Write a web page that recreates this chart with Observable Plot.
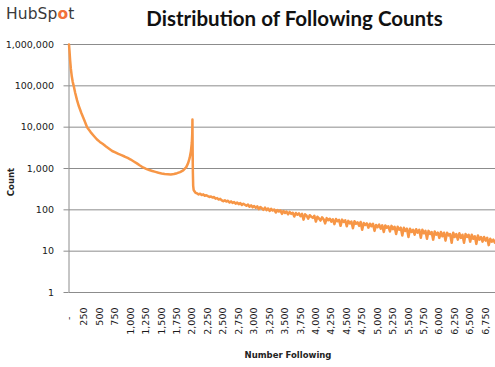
<!DOCTYPE html>
<html><head><meta charset="utf-8">
<script src="https://cdn.jsdelivr.net/npm/d3@7"></script>
<script src="https://cdn.jsdelivr.net/npm/@observablehq/plot@0.6"></script>
<style>
body{margin:0;background:#fff;}
#wrap{position:relative;width:495px;height:367px;overflow:hidden;font-family:"DejaVu Sans",sans-serif;background:#fff;}
#wrap svg{position:absolute;left:0;top:0;}
#logo{position:absolute;left:6px;top:5px;font-family:"DejaVu Sans",sans-serif;font-size:15.5px;line-height:18px;color:#3a3a3a;letter-spacing:0.1px;}
#logo .o{color:#f2703a;font-weight:bold;}
#title{position:absolute;left:94.5px;width:400px;top:8px;text-align:center;font-family:Lato,sans-serif;font-weight:700;font-size:20.5px;line-height:20px;color:#111;}
.axl{position:absolute;font-family:"DejaVu Sans",sans-serif;font-weight:bold;font-size:8.5px;color:#222;white-space:nowrap;transform:translate(-50%,-50%);}
#ylab{left:11px;top:182px;transform:translate(-50%,-50%) rotate(-90deg);}
#xlab{left:288px;top:355px;}
</style></head><body>
<div id="wrap">
  <div id="logo">HubSp<span class="o">o</span>t</div>
  <div id="title">Distribution of Following Counts</div>
  <div id="ylab" class="axl">Count</div>
  <div id="xlab" class="axl">Number Following</div>
</div>
<script>
// Number followed (x) and count of users (y)
const followingHead = [0, 8, 18, 30, 45, 60, 76, 100, 130, 160, 200, 250, 293, 350, 400, 450, 500, 550, 600, 650, 700, 750, 800, 850, 900, 950, 1000, 1050, 1100, 1150, 1200, 1250, 1300, 1350, 1400, 1450, 1500, 1550, 1600, 1650, 1700, 1750, 1800, 1850, 1900, 1930, 1955, 1975, 1990, 1997, 2000, 2003, 2007, 2012, 2020, 2030];
const countHead = [1000000, 700000, 420000, 260000, 170000, 125000, 100000, 68000, 45000, 32000, 22000, 14500, 10000, 7600, 6200, 5100, 4400, 3900, 3400, 3000, 2650, 2450, 2250, 2100, 1950, 1800, 1650, 1480, 1330, 1180, 1060, 980, 920, 870, 830, 790, 760, 740, 730, 720, 735, 770, 820, 900, 1080, 1350, 1800, 2600, 4200, 7000, 15300, 3000, 800, 380, 300, 285];
// tail: one reading every 25 following, from 2,050 to 6,900
const tailStart = 2050, tailStep = 25;
const countTail = [
  258, 250, 236, 245, 228, 237, 219, 226, 214, 205, 211, 198, 204, 186, 192, 178,
  184, 170, 162, 171, 159, 166, 150, 160, 147, 155, 141, 150, 137, 146, 131, 141,
  133, 125, 134, 119, 128, 115, 124, 112, 121, 104, 117, 109, 100, 113, 98, 108,
  94, 106, 96, 102, 86, 99, 91, 97, 80, 94, 84, 91, 78, 89, 80, 85,
  69, 84, 76, 82, 70, 80, 58, 78, 72, 61, 74, 68, 64, 72, 52, 68,
  62, 55, 66, 59, 47, 63, 56, 61, 52, 59, 45, 60, 53, 57, 41, 58,
  51, 56, 40, 54, 47, 52, 36, 53, 46, 50, 41, 51, 33, 48, 43, 47,
  37, 46, 40, 46, 31, 43, 38, 44, 35, 42, 29, 42, 37, 40, 30, 41,
  34, 39, 26, 39, 33, 37, 24, 37, 31, 35, 22, 35, 29, 33, 25, 34,
  28, 33, 21, 33, 27, 31, 20, 31, 26, 29, 19, 30, 25, 28, 21, 29,
  23, 28, 18, 28, 24, 26, 16, 28, 22, 26, 19, 27, 21, 25, 16, 26,
  22, 25, 17, 25, 20, 23, 15, 24, 19, 22, 17, 22, 18, 21, 14, 20,
  17, 19, 16
];
const yTicks = [1, 10, 100, 1000, 10000, 100000, 1000000];
const xTicks = [0, 250, 500, 750, 1000, 1250, 1500, 1750, 2000, 2250, 2500, 2750, 3000, 3250, 3500, 3750, 4000, 4250, 4500, 4750, 5000, 5250, 5500, 5750, 6000, 6250, 6500, 6750];
const xTickLabels = ["-\u00a0\u00a0\u00a0", "250", "500", "750", "1,000", "1,250", "1,500", "1,750", "2,000", "2,250", "2,500", "2,750", "3,000", "3,250", "3,500", "3,750", "4,000", "4,250", "4,500", "4,750", "5,000", "5,250", "5,500", "5,750", "6,000", "6,250", "6,500", "6,750"];

const followingTail = countTail.map((_, i) => tailStart + i * tailStep);
const following = followingHead.concat(followingTail);
const counts = countHead.concat(countTail);
const data = following.map((f, i) => ({f, c: counts[i]}));
const labelMap = new Map(xTicks.map((t, i) => [t, xTickLabels[i]]));

const chart = Plot.plot({
  width: 495, height: 367,
  marginTop: 44, marginBottom: 75, marginLeft: 68.5, marginRight: 0,
  style: {fontFamily: "DejaVu Sans, sans-serif", fontSize: "9.5px", color: "#1a1a1a", background: "transparent"},
  x: {domain: [0, 6910]},
  y: {type: "log", domain: [1, 1000000]},
  marks: [
    Plot.ruleY(yTicks, {stroke: "#8c8c8c", strokeWidth: 1}),
    Plot.ruleX([0], {stroke: "#8c8c8c", strokeWidth: 1}),
    Plot.axisY({ticks: yTicks, tickFormat: d => d3.format(",")(d), tickSize: 5, tickPadding: 10, stroke: "#8c8c8c", label: null}),
    Plot.axisX({ticks: xTicks, tickFormat: d => labelMap.get(d), tickRotate: -90, tickSize: 0, tickPadding: 15, label: null}),
    Plot.line(data, {x: "f", y: "c", stroke: "#F79646", strokeWidth: 2.5, strokeLinejoin: "round"})
  ]
});
document.getElementById("wrap").prepend(chart);
</script>
</body></html>
